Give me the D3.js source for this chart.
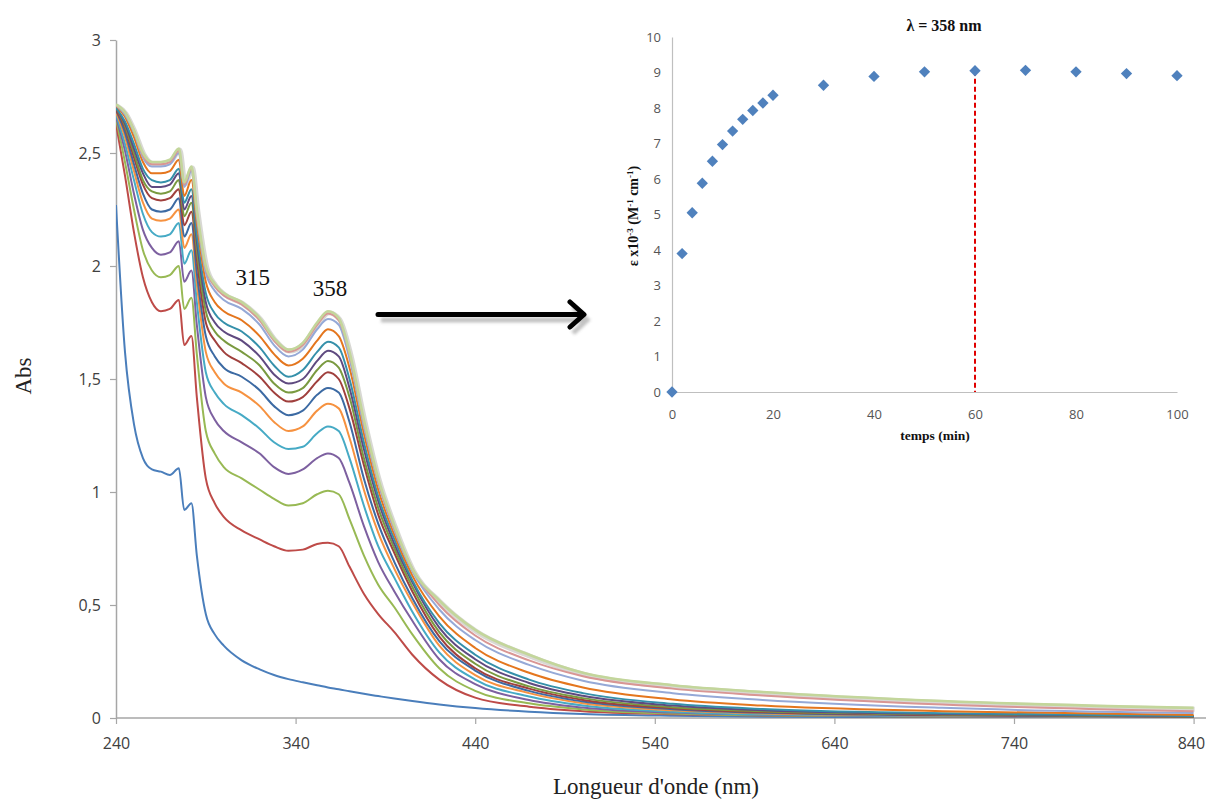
<!DOCTYPE html>
<html>
<head>
<meta charset="utf-8">
<script src="https://cdn.jsdelivr.net/npm/d3@7"></script>
<style>
  html, body { margin: 0; padding: 0; background: #fff; }
  svg { display: block; }
</style>
</head>
<body>
<svg id="chart" width="1206" height="801"></svg>
<script>
// ---------------- DATA ----------------
const wavelengths = [240,245,250,255,260,265,270,275,278,282,285,290,295,300,310,320,328,336,344,352,358,364,370,378,386,395,405,420,440,470,500,550,600,700,840];

const spec00 = [2.27,1.62,1.30,1.15,1.10,1.09,1.075,1.105,0.92,0.95,0.72,0.46,0.37,0.32,0.255,0.215,0.19,0.172,0.158,0.145,0.135,0.127,0.118,0.107,0.097,0.086,0.075,0.06,0.044,0.028,0.018,0.01,0.006,0.003,0.001];
const spec01 = [2.63,2.40,2.15,1.95,1.84,1.80,1.81,1.85,1.65,1.69,1.42,1.06,0.95,0.89,0.83,0.79,0.76,0.74,0.745,0.77,0.775,0.76,0.67,0.55,0.46,0.38,0.28,0.17,0.09,0.05,0.03,0.017,0.011,0.007,0.004];
const spec02 = [2.65,2.46,2.25,2.07,1.98,1.95,1.96,2.00,1.81,1.86,1.61,1.27,1.17,1.11,1.06,1.01,0.97,0.94,0.95,0.99,1.005,0.99,0.88,0.72,0.59,0.49,0.37,0.22,0.12,0.065,0.038,0.02,0.012,0.007,0.004];
const spec03 = [2.66,2.51,2.32,2.16,2.08,2.05,2.06,2.11,1.93,1.98,1.74,1.42,1.32,1.27,1.22,1.17,1.11,1.08,1.10,1.15,1.17,1.15,1.04,0.85,0.69,0.56,0.43,0.26,0.15,0.08,0.046,0.024,0.014,0.008,0.004];
const spec04 = [2.67,2.54,2.38,2.23,2.15,2.13,2.14,2.19,2.01,2.07,1.84,1.53,1.44,1.39,1.34,1.28,1.22,1.19,1.20,1.26,1.29,1.27,1.15,0.94,0.76,0.62,0.47,0.29,0.17,0.095,0.055,0.028,0.016,0.009,0.005];
const spec05 = [2.68,2.57,2.42,2.28,2.21,2.20,2.21,2.25,2.08,2.14,1.92,1.62,1.53,1.48,1.44,1.38,1.31,1.27,1.29,1.36,1.39,1.37,1.24,1.01,0.82,0.66,0.51,0.32,0.19,0.11,0.065,0.034,0.02,0.011,0.005];
const spec06 = [2.69,2.59,2.45,2.32,2.25,2.24,2.25,2.30,2.13,2.19,1.97,1.69,1.60,1.55,1.51,1.45,1.38,1.34,1.36,1.43,1.46,1.44,1.31,1.06,0.86,0.69,0.53,0.34,0.21,0.12,0.073,0.039,0.023,0.012,0.006];
const spec07 = [2.69,2.61,2.48,2.36,2.30,2.29,2.30,2.34,2.18,2.24,2.03,1.75,1.67,1.62,1.57,1.51,1.44,1.40,1.42,1.49,1.53,1.50,1.37,1.12,0.90,0.73,0.56,0.36,0.22,0.13,0.08,0.043,0.026,0.014,0.006];
const spec08 = [2.70,2.62,2.50,2.38,2.33,2.32,2.33,2.38,2.22,2.28,2.07,1.80,1.71,1.67,1.62,1.56,1.48,1.44,1.46,1.54,1.58,1.55,1.42,1.15,0.93,0.75,0.58,0.38,0.24,0.14,0.088,0.048,0.03,0.016,0.007];
const spec09 = [2.70,2.63,2.52,2.41,2.35,2.35,2.36,2.41,2.25,2.31,2.11,1.84,1.75,1.71,1.67,1.60,1.52,1.48,1.50,1.58,1.625,1.60,1.46,1.19,0.96,0.77,0.60,0.40,0.26,0.155,0.098,0.055,0.034,0.018,0.008];
const spec10 = [2.70,2.64,2.54,2.43,2.38,2.37,2.38,2.43,2.28,2.34,2.14,1.88,1.79,1.75,1.71,1.64,1.56,1.51,1.54,1.62,1.665,1.64,1.50,1.22,0.98,0.79,0.61,0.42,0.28,0.17,0.11,0.063,0.04,0.021,0.009];
const spec11 = [2.71,2.66,2.57,2.46,2.41,2.41,2.42,2.47,2.31,2.38,2.19,1.93,1.84,1.80,1.76,1.69,1.61,1.56,1.59,1.67,1.72,1.69,1.55,1.26,1.01,0.81,0.63,0.45,0.31,0.20,0.135,0.082,0.055,0.03,0.013];
const spec12 = [2.71,2.67,2.59,2.48,2.44,2.44,2.45,2.50,2.35,2.42,2.22,1.97,1.89,1.85,1.81,1.74,1.65,1.60,1.63,1.72,1.765,1.74,1.59,1.29,1.04,0.83,0.65,0.48,0.345,0.235,0.165,0.11,0.08,0.045,0.022];
const spec13 = [2.71,2.68,2.60,2.49,2.45,2.45,2.46,2.51,2.36,2.43,2.24,1.99,1.91,1.87,1.83,1.76,1.67,1.62,1.65,1.74,1.79,1.76,1.61,1.31,1.05,0.84,0.66,0.50,0.365,0.255,0.185,0.13,0.10,0.06,0.03];
const spec14 = [2.715,2.68,2.60,2.50,2.46,2.46,2.47,2.52,2.37,2.44,2.25,2.00,1.92,1.88,1.84,1.77,1.68,1.63,1.66,1.75,1.80,1.77,1.62,1.32,1.06,0.85,0.66,0.52,0.39,0.28,0.20,0.145,0.115,0.075,0.045];

const spectra = [spec00,spec01,spec02,spec03,spec04,spec05,spec06,spec07,spec08,spec09,spec10,spec11,spec12,spec13,spec14];

const absTicks = [0,0.5,1,1.5,2,2.5,3];
const wlTicks = [240,340,440,540,640,740,840];

const times = [0,2,4,6,8,10,12,14,16,18,20,30,40,50,60,70,80,90,100];
const epsilon = [0,3.9,5.05,5.88,6.5,6.97,7.35,7.68,7.93,8.14,8.36,8.64,8.89,9.02,9.05,9.06,9.02,8.97,8.91];
const timeTicks = [0,20,40,60,80,100];
const epsTicks = [0,1,2,3,4,5,6,7,8,9,10];
const markTime = 60;

const peakLabels = ["315", "358"];

// ---------------- STYLE ----------------
const colors = ["#4a7ebb","#be4b48","#98b954","#7d60a0","#46aac5","#f69240",
                "#3c6aa3","#a0403d","#7a9a40","#5f4a80","#3590aa","#e4761e",
                "#95a9d7","#d99694","#c3d69b"];

const svg = d3.select("#chart");
const labelFont = "'Open Sans', 'Liberation Sans', sans-serif";
const serif = "'Liberation Serif', 'DejaVu Serif', serif";
const defs = svg.append("defs");

// ---------------- MAIN CHART ----------------
const x = d3.scaleLinear().domain([240, 840]).range([116, 1193.6]);
const y = d3.scaleLinear().domain([0, 3]).range([718, 40]);

const main = svg.append("g");

const yAxis = main.append("g").attr("transform", "translate(116,0)")
  .call(d3.axisLeft(y).tickValues(absTicks).tickSize(6).tickSizeOuter(0).tickPadding(9)
    .tickFormat(d => String(d).replace(".", ",")));
const xAxis = main.append("g").attr("transform", "translate(0,718)")
  .call(d3.axisBottom(x).tickValues(wlTicks).tickSize(6).tickSizeOuter(0).tickPadding(14));
xAxis.select(".domain").attr("d", "M116,0H1206");
// the last label sits against the right edge of the picture
xAxis.selectAll(".tick").filter(d => d === 840).select("text")
  .attr("text-anchor", "end").attr("x", 11);

[yAxis, xAxis].forEach(a => {
  a.selectAll(".domain").attr("stroke", "#a6a6a6").attr("stroke-width", 1.5);
  a.selectAll(".tick line").attr("stroke", "#a6a6a6").attr("stroke-width", 1.2);
  a.selectAll("text").attr("fill", "#404040").style("font-family", labelFont).style("font-size", "16px");
});

defs.append("clipPath").attr("id", "plotclip")
  .append("rect").attr("x", 116).attr("y", 30).attr("width", 1090).attr("height", 688);

const line = d3.line()
  .x((d, i) => x(wavelengths[i]))
  .y(d => y(d))
  .curve(d3.curveMonotoneX);

const curves = main.append("g").attr("clip-path", "url(#plotclip)");

curves.append("path").datum(spectra[spectra.length - 1])
  .attr("d", line).attr("fill", "none")
  .attr("stroke", "#a8a8a0").attr("stroke-opacity", 0.45).attr("stroke-width", 5)
  .attr("transform", "translate(1,1.5)");

spectra.forEach((s, i) => {
  curves.append("path").datum(s)
    .attr("d", line)
    .attr("fill", "none")
    .attr("stroke", colors[i])
    .attr("stroke-width", i === spectra.length - 1 ? 2.6 : 2)
    .attr("stroke-linejoin", "round");
});

main.append("text").attr("transform", "translate(31,376) rotate(-90)")
  .attr("text-anchor", "middle").style("font-family", serif).style("font-size", "23px")
  .attr("fill", "#222").text("Abs");
main.append("text").attr("x", 656).attr("y", 794)
  .attr("text-anchor", "middle").style("font-family", serif).style("font-size", "23px")
  .attr("fill", "#222").text("Longueur d'onde (nm)");

const peakPos = [{nm: 315, base: 285}, {nm: 358, base: 296}];
main.selectAll(".peaklab").data(peakLabels).enter().append("text")
  .attr("class", "peaklab")
  .attr("x", (d, i) => x(+d) + 2)
  .attr("y", (d, i) => peakPos[i].base)
  .attr("text-anchor", "middle")
  .style("font-family", serif).style("font-size", "23px").attr("fill", "#111")
  .text(d => d);

// arrow
const f = defs.append("filter").attr("id", "shadow").attr("x", "-10%").attr("y", "-50%").attr("width", "120%").attr("height", "200%");
f.append("feGaussianBlur").attr("stdDeviation", 1.5);
const arrow = svg.append("g");
arrow.append("path").attr("d", "M380,318 H584 M572,305 L586,318 L572,331")
  .attr("fill", "none").attr("stroke", "#999").attr("stroke-width", 5).attr("opacity", 0.6)
  .attr("filter", "url(#shadow)").attr("transform", "translate(1,2)");
arrow.append("path").attr("d", "M378,314.5 H582 M570,302 L584,314.5 L570,327")
  .attr("fill", "none").attr("stroke", "#000").attr("stroke-width", 5).attr("stroke-linecap", "round").attr("stroke-linejoin", "round");

// ---------------- INSET ----------------
const ix = d3.scaleLinear().domain([0, 100]).range([672, 1177]);
const iy = d3.scaleLinear().domain([0, 10]).range([392, 37]);
const inset = svg.append("g");

const iyAxis = inset.append("g").attr("transform", "translate(672,0)")
  .call(d3.axisLeft(iy).tickValues(epsTicks).tickSize(0).tickPadding(11));
const ixAxis = inset.append("g").attr("transform", "translate(0,392)")
  .call(d3.axisBottom(ix).tickValues(timeTicks).tickSize(0).tickPadding(18));
[iyAxis, ixAxis].forEach(a => {
  a.selectAll(".domain").attr("stroke", "#bfbfbf").attr("stroke-width", 1.2);
  a.selectAll("text").attr("fill", "#555").style("font-family", labelFont).style("font-size", "13px");
});

const markIdx = times.indexOf(markTime);
inset.append("line")
  .attr("x1", ix(markTime)).attr("x2", ix(markTime))
  .attr("y1", iy(epsilon[markIdx])).attr("y2", iy(0))
  .attr("stroke", "#e00000").attr("stroke-width", 2).attr("stroke-dasharray", "5,3");

const diamond = d3.symbol().type(d3.symbolSquare).size(64);
inset.selectAll(".pt").data(times).enter().append("path")
  .attr("class", "pt")
  .attr("d", diamond)
  .attr("transform", (t, i) => `translate(${ix(t)},${iy(epsilon[i])}) rotate(45)`)
  .attr("fill", "#4f81bd");

inset.append("text").attr("x", 944).attr("y", 31).attr("text-anchor", "middle")
  .style("font-family", serif).style("font-size", "16px").style("font-weight", "bold")
  .attr("fill", "#111").text("λ = 358 nm");
inset.append("text").attr("x", 935).attr("y", 440).attr("text-anchor", "middle")
  .style("font-family", serif).style("font-size", "13.5px").style("font-weight", "bold")
  .attr("fill", "#111").text("temps (min)");

const yt = inset.append("text").attr("transform", "translate(638,216) rotate(-90)")
  .attr("text-anchor", "middle")
  .style("font-family", serif).style("font-size", "14px").style("font-weight", "bold")
  .attr("fill", "#111");
yt.append("tspan").text("ε x10");
yt.append("tspan").attr("dy", -5).style("font-size", "9px").text("-3");
yt.append("tspan").attr("dy", 5).text(" (M");
yt.append("tspan").attr("dy", -5).style("font-size", "9px").text("-1");
yt.append("tspan").attr("dy", 5).text(" cm");
yt.append("tspan").attr("dy", -5).style("font-size", "9px").text("-1");
yt.append("tspan").attr("dy", 5).text(")");
</script>
</body>
</html>
